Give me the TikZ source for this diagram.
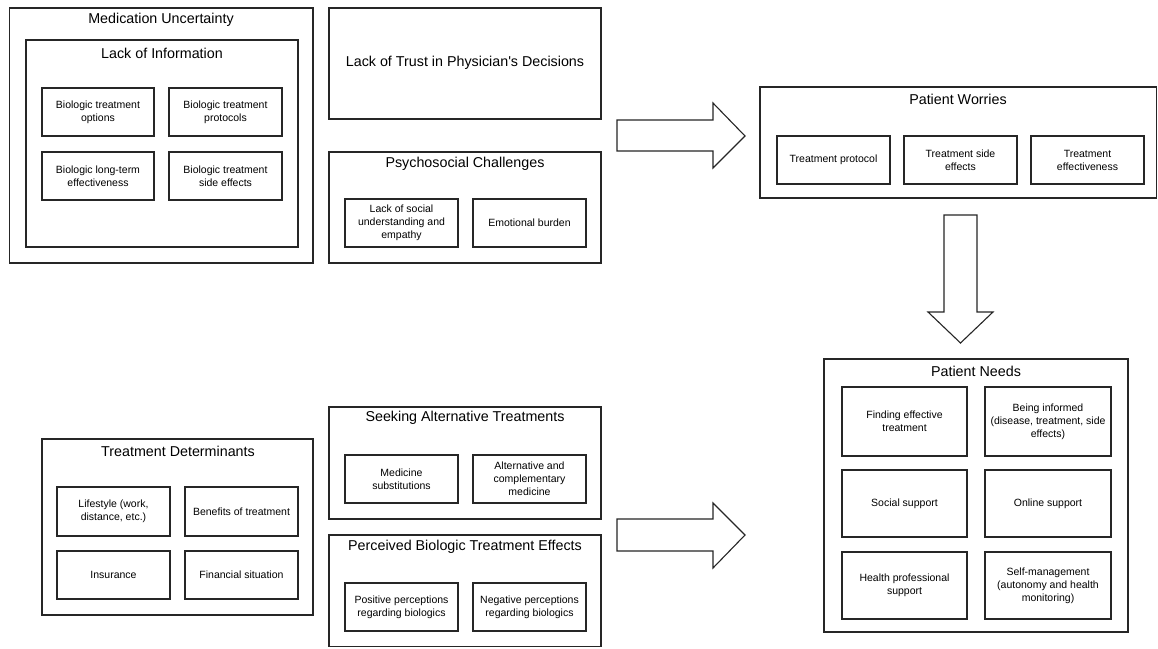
\documentclass[tikz,border=0pt]{standalone}
\usepackage{fontspec}
\setmainfont{Liberation Sans}[Ligatures=TeXOff]
\begin{document}
\begin{tikzpicture}[x=1pt,y=-1pt,
  line join=miter,
  grp/.style={draw=black!85, line width=1.2pt, inner sep=0pt, outer sep=0pt},
  sub/.style={draw=black!85, line width=1.1pt, inner sep=1pt, outer sep=0pt, align=center,
    font=\fontsize{10.5}{13}\selectfont},
  ttl/.style={inner sep=0pt, font=\fontsize{14.3}{17}\selectfont},
  blk/.style={draw=black!85, line width=1.1pt, fill=white}
]
\useasboundingbox (0,0) rectangle (1158,648);
\fill[white] (0,0) rectangle (1158,648);
\newcommand\rbox[7]{\node[#1, minimum width={#5-#3}, minimum height={#6-#4}] (#2) at ({(#3+#5)/2},{(#4+#6)/2}) {#7};}

% Medication Uncertainty
\rbox{grp}{mu}{9.5}{8}{313}{263}{}
\node[ttl] (mut) at (161,20) {Medication Uncertainty};
\rbox{grp}{li}{26}{40}{298}{247}{}
\node[ttl] (lit) at (162,53) {Lack of Information};
\rbox{sub}{li1}{42}{88}{154}{136}{Biologic treatment\\options}
\rbox{sub}{li2}{169}{88}{282}{136}{Biologic treatment\\protocols}
\rbox{sub}{li3}{42}{152}{154}{200}{Biologic long-term\\effectiveness}
\rbox{sub}{li4}{169}{152}{282}{200}{Biologic treatment\\side effects}

% Lack of trust
\rbox{grp}{tr}{329}{8}{601}{119}{}
\node[ttl] (trt) at (465,63) {Lack of Trust in Physician's Decisions};

% Psychosocial
\rbox{grp}{ps}{329}{152}{601}{263}{}
\node[ttl] (pst) at (465,164) {Psychosocial Challenges};
\rbox{sub}{ps1}{345}{199}{458}{247}{Lack of social\\understanding and\\empathy}
\rbox{sub}{ps2}{473}{199}{586}{247}{Emotional burden}

% Arrow 1
\coordinate (a1t) at (745,136);
\draw[blk] (617,120) -- (713,120) -- (713,103) -- (a1t) -- (713,168) -- (713,151) -- (617,151) -- cycle;

% Patient Worries
\rbox{grp}{pw}{760}{87}{1156.5}{198}{}
\node[ttl] (pwt) at (958,99) {Patient Worries};
\rbox{sub}{pw1}{777}{136}{890}{184}{Treatment protocol}
\rbox{sub}{pw2}{904}{136}{1017}{184}{Treatment side\\effects}
\rbox{sub}{pw3}{1031}{136}{1144}{184}{Treatment\\effectiveness}

% Down arrow
\coordinate (a2t) at (960.5,343);
\draw[blk] (944,215) -- (977,215) -- (977,312) -- (993,312) -- (a2t) -- (928,312) -- (944,312) -- cycle;

% Treatment Determinants
\rbox{grp}{td}{42}{439}{313}{615}{}
\node[ttl] (tdt) at (178,451) {Treatment Determinants};
\rbox{sub}{td1}{57}{487}{170}{536}{Lifestyle (work,\\distance, etc.)}
\rbox{sub}{td2}{185}{487}{298}{536}{Benefits of treatment}
\rbox{sub}{td3}{57}{551}{170}{599}{Insurance}
\rbox{sub}{td4}{185}{551}{298}{599}{Financial situation}

% Seeking Alternative
\rbox{grp}{sa}{329}{407}{601}{519}{}
\node[ttl] (sat) at (465,418) {Seeking Alternative Treatments};
\rbox{sub}{sa1}{345}{455}{458}{503}{Medicine\\substitutions}
\rbox{sub}{sa2}{473}{455}{586}{503}{Alternative and\\complementary\\medicine}

% Perceived
\rbox{grp}{pb}{329}{535}{601}{646.5}{}
\node[ttl] (pbt) at (465,547) {Perceived Biologic Treatment Effects};
\rbox{sub}{pb1}{345}{583}{458}{631}{Positive perceptions\\regarding biologics}
\rbox{sub}{pb2}{473}{583}{586}{631}{Negative perceptions\\regarding biologics}

% Arrow 3
\coordinate (a3t) at (745,535);
\draw[blk] (617,519) -- (713,519) -- (713,503) -- (a3t) -- (713,568) -- (713,551) -- (617,551) -- cycle;

% Patient Needs
\rbox{grp}{pn}{824}{359}{1128}{632}{}
\node[ttl] (pnt) at (976,371) {Patient Needs};
\rbox{sub}{pn1}{842}{387}{967}{456}{Finding effective\\treatment}
\rbox{sub}{pn2}{985}{387}{1111}{456}{Being informed\\(disease, treatment, side\\effects)}
\rbox{sub}{pn3}{842}{470}{967}{537}{Social support}
\rbox{sub}{pn4}{985}{470}{1111}{537}{Online support}
\rbox{sub}{pn5}{842}{552}{967}{619}{Health professional\\support}
\rbox{sub}{pn6}{985}{552}{1111}{619}{Self-management\\(autonomy and health\\monitoring)}
\end{tikzpicture}
\end{document}
